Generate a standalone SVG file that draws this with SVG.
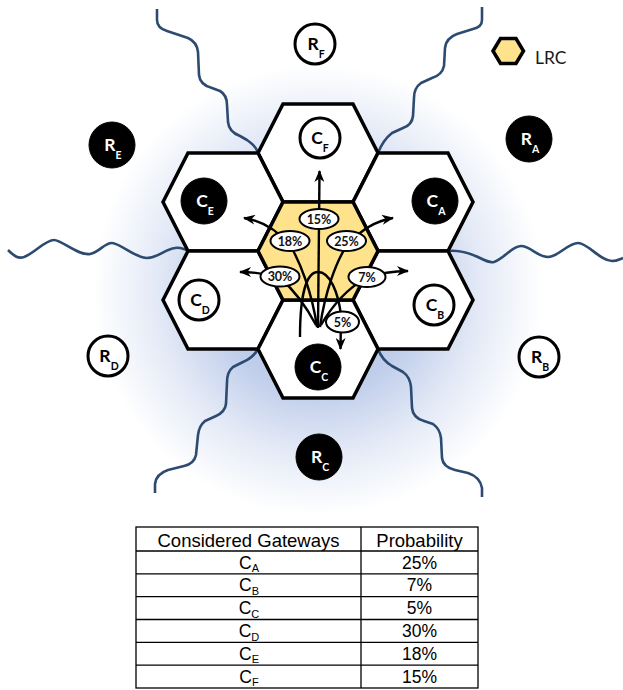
<svg xmlns="http://www.w3.org/2000/svg" width="623" height="690" viewBox="0 0 623 690">
<style>
.hex{fill:#fff;stroke:#000;stroke-width:3.5;stroke-linejoin:miter}
.lrc{fill:#FFE28C;stroke:#000;stroke-width:3.5}
.wave{fill:none;stroke:#2D4B70;stroke-width:2.6;stroke-linecap:butt;stroke-linejoin:round}
.cw{fill:#fff;stroke:#000;stroke-width:3}
.cb{fill:#000;stroke:#000;stroke-width:1}
.lb{font-family:Lato,"Open Sans","Liberation Sans",sans-serif;font-weight:bold;font-size:17.5px;text-anchor:middle}
.lb tspan{font-size:10.5px}
.tw{fill:#fff}
.tk{fill:#000}
.fl{fill:none;stroke:#000;stroke-width:2.4}
.el{fill:#fff;stroke:#000;stroke-width:2}
.pc{font-family:Lato,"Open Sans","Liberation Sans",sans-serif;font-weight:bold;font-size:12.5px;text-anchor:middle;fill:#111}
.tb{fill:none;stroke:#000;stroke-width:1.3}
.tt{font-family:"Liberation Sans",Arial,sans-serif;font-size:17.5px;text-anchor:middle;fill:#000}
.tt tspan{font-size:11px}
</style>
<defs>
<radialGradient id="glow" cx="318" cy="290" r="225" gradientUnits="userSpaceOnUse">
<stop offset="0" stop-color="#A9BCE3"/>
<stop offset="0.45" stop-color="#C0CEEB"/>
<stop offset="0.72" stop-color="#E3E9F6"/>
<stop offset="1" stop-color="#FFFFFF"/>
</radialGradient>
<path id="hx" d="M-60,0 L-35,-49 L35,-49 L60,0 L35,49 L-35,49 Z"/>
<marker id="ah" markerUnits="userSpaceOnUse" markerWidth="13" markerHeight="10" refX="11" refY="5" orient="auto">
<path d="M0,0 L12,5 L0,10 L3.5,5 Z" fill="#000"/>
</marker>
</defs>
<rect width="623" height="690" fill="#fff"/>
<rect width="623" height="515" fill="url(#glow)"/>

<g id="waves">
<path class="wave" d="M157,9 L157,20 Q157,28 167,31 L188,38 Q197,42 198,52 L199,75 Q200,85 212,88 L220,91 Q227,95 227,105 L228,122 Q229,132 240,136 L247,140 Q256,146 258,153"/>
<path class="wave" d="M482,7 L482,20 Q482,27 473,29 L457,34 Q446,38 445,48 L444,66 Q442,75 432,78 L421,83 Q414,88 414,98 L413,116 Q412,125 403,128 L392,133 Q383,140 378,153"/>
<path class="wave" d="M8,250 C14,256 18,259 24,257 C35,253 45,240 54,240 C62,240 78,256 90,254 C100,252 104,243 112,243 C120,243 135,258 147,258 C158,258 165,249 175,248 C180,247 183,249 188,250"/>
<path class="wave" d="M448,251 C458,250 470,253 480,258 C486,261 490,263 494,262 C505,258 512,246 521,246 C530,246 538,257 548,257 C558,257 568,243 578,243 C588,243 600,261 612,261 C617,261 620,259 623,258"/>
<path class="wave" d="M258,349 Q253,358 243,362 L233,367 Q227,372 227,382 L226,404 Q225,412 216,416 L205,421 Q199,426 198,435 L196,455 Q194,464 184,466 L168,470 Q156,474 155,484 L155,493"/>
<path class="wave" d="M378,349 Q382,360 392,366 L403,372 Q410,377 411,387 L412,408 Q413,418 424,421 L433,424 Q440,429 441,438 L442,458 Q443,467 455,470 L468,473 Q480,477 482,488 L482,497"/>
</g>

<g id="hex-F"><use href="#hx" x="318" y="153" class="hex"/><circle class="cw" cx="320" cy="138" r="20"/><text class="lb tk" x="320" y="144">C<tspan dy="7.5">F</tspan></text></g>
<g id="hex-E"><use href="#hx" x="223" y="202" class="hex"/><circle class="cb" cx="204" cy="201" r="23"/><text class="lb tw" x="205" y="207">C<tspan dy="7.5">E</tspan></text></g>
<g id="hex-A"><use href="#hx" x="413" y="202" class="hex"/><circle class="cb" cx="435" cy="201" r="23"/><text class="lb tw" x="436" y="207">C<tspan dy="7.5">A</tspan></text></g>
<g id="hex-D"><use href="#hx" x="223" y="300" class="hex"/><circle class="cw" cx="199" cy="300" r="20"/><text class="lb tk" x="200" y="306">C<tspan dy="7.5">D</tspan></text></g>
<g id="hex-B"><use href="#hx" x="413" y="300" class="hex"/><circle class="cw" cx="434" cy="305" r="20"/><text class="lb tk" x="435" y="311">C<tspan dy="7.5">B</tspan></text></g>
<g id="hex-C"><use href="#hx" x="318" y="349" class="hex"/><circle class="cb" cx="318" cy="367" r="23"/><text class="lb tw" x="319" y="373">C<tspan dy="7.5">C</tspan></text></g>
<g id="hex-LRC"><use href="#hx" x="318" y="251" class="hex" style="fill:#FFE28C"/></g>

<g id="R-F"><circle class="cw" cx="315" cy="44" r="20"/><text class="lb tk" x="316" y="50">R<tspan dy="7.5">F</tspan></text></g>
<g id="R-E"><circle class="cb" cx="112" cy="145" r="23"/><text class="lb tw" x="113" y="151">R<tspan dy="7.5">E</tspan></text></g>
<g id="R-A"><circle class="cb" cx="529" cy="139" r="23"/><text class="lb tw" x="530" y="145">R<tspan dy="7.5">A</tspan></text></g>
<g id="R-D"><circle class="cw" cx="108" cy="356" r="20"/><text class="lb tk" x="109" y="362">R<tspan dy="7.5">D</tspan></text></g>
<g id="R-B"><circle class="cw" cx="539" cy="357" r="20"/><text class="lb tk" x="540" y="363">R<tspan dy="7.5">B</tspan></text></g>
<g id="R-C"><circle class="cb" cx="319" cy="457" r="23"/><text class="lb tw" x="320" y="463">R<tspan dy="7.5">C</tspan></text></g>

<g id="legend">
<path class="lrc" d="M493,51 L500.5,38.5 L516,38.5 L523.5,51 L516,63.5 L500.5,63.5 Z"/>
<text x="535" y="64" font-family="Lato,'Open Sans','Liberation Sans',sans-serif" font-size="17.5" fill="#1a1a1a">LRC</text>
</g>

<g id="connectors">
<path class="fl" d="M318,328 L319.5,171" marker-end="url(#ah)"/>
<path class="fl" d="M317,327 C312,292 300,262 290,245 Q270,222 244,218" marker-end="url(#ah)"/>
<path class="fl" d="M320,327 C325,292 336,262 347,245 Q368,222 393,218" marker-end="url(#ah)"/>
<path class="fl" d="M316,325 C306,306 294,290 280,278 Q262,272 240,272" marker-end="url(#ah)"/>
<path class="fl" d="M321,325 C332,306 345,290 366,278 Q386,271 408,271" marker-end="url(#ah)"/>
<path class="fl" d="M300,337 C300,296 306,272 318,272 C330,272 338,292 341,315 L340.5,349" marker-end="url(#ah)"/>
</g>

<g id="labels">
<ellipse class="el" cx="319" cy="219" rx="19.5" ry="10"/><text class="pc" x="319" y="223.5">15%</text>
<ellipse class="el" cx="290" cy="241" rx="19.5" ry="10"/><text class="pc" x="290" y="245.5">18%</text>
<ellipse class="el" cx="346.5" cy="241" rx="19.5" ry="10"/><text class="pc" x="346.5" y="245.5">25%</text>
<ellipse class="el" cx="280" cy="276.5" rx="19.5" ry="10"/><text class="pc" x="280" y="281">30%</text>
<ellipse class="el" cx="367" cy="277" rx="18.5" ry="10"/><text class="pc" x="367" y="281.5">7%</text>
<ellipse class="el" cx="342.5" cy="322" rx="16.5" ry="10.5"/><text class="pc" x="342.5" y="326.5">5%</text>
</g>

<g id="table">
<rect class="tb" x="136" y="527" width="342" height="161"/>
<line class="tb" x1="361" y1="527" x2="361" y2="688"/>
<line class="tb" x1="136" y1="551" x2="478" y2="551"/>
<line class="tb" x1="136" y1="573.8" x2="478" y2="573.8"/>
<line class="tb" x1="136" y1="596.7" x2="478" y2="596.7"/>
<line class="tb" x1="136" y1="619.5" x2="478" y2="619.5"/>
<line class="tb" x1="136" y1="642.3" x2="478" y2="642.3"/>
<line class="tb" x1="136" y1="665.2" x2="478" y2="665.2"/>
<text class="tt" x="248.5" y="547" style="font-size:18.5px">Considered Gateways</text>
<text class="tt" x="419.5" y="547" style="font-size:18.5px">Probability</text>
<text class="tt" x="249" y="568.5">C<tspan dy="3.5">A</tspan></text><text class="tt" x="419.5" y="568.5">25%</text>
<text class="tt" x="249" y="591.3">C<tspan dy="3.5">B</tspan></text><text class="tt" x="419.5" y="591.3">7%</text>
<text class="tt" x="249" y="614.2">C<tspan dy="3.5">C</tspan></text><text class="tt" x="419.5" y="614.2">5%</text>
<text class="tt" x="249" y="637">C<tspan dy="3.5">D</tspan></text><text class="tt" x="419.5" y="637">30%</text>
<text class="tt" x="249" y="659.8">C<tspan dy="3.5">E</tspan></text><text class="tt" x="419.5" y="659.8">18%</text>
<text class="tt" x="249" y="682.7">C<tspan dy="3.5">F</tspan></text><text class="tt" x="419.5" y="682.7">15%</text>
</g>
</svg>
